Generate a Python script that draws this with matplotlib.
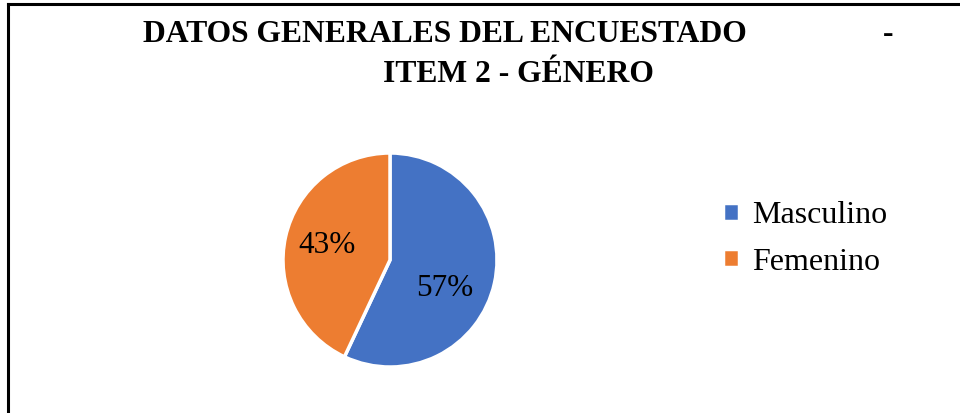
import matplotlib
matplotlib.use("Agg")
import matplotlib.pyplot as plt
from matplotlib.lines import Line2D

categories = ["Masculino", "Femenino"]
values = [57, 43]
colors = ["#4472C4", "#ED7D31"]
title_line1 = "DATOS GENERALES DEL ENCUESTADO"
title_line2 = "ITEM 2 - GÉNERO"

W, H = 960, 413
fig = plt.figure(figsize=(W / 100, H / 100), dpi=100)
fig.patch.set_facecolor("white")

serif = ["Liberation Serif", "DejaVu Serif"]

# border (top and left visible)
fig.add_artist(Line2D([8 / W, 1.0], [1 - 4 / H, 1 - 4 / H], color="black", lw=2.2, transform=fig.transFigure))
fig.add_artist(Line2D([8 / W, 8 / W], [0, 1 - 4 / H], color="black", lw=2.2, transform=fig.transFigure))

# title
fig.text(143 / W, 1 - 42 / H, title_line1, fontfamily=serif, fontweight="bold", fontsize=22.8,
         ha="left", va="baseline")
fig.text(888 / W, 1 - 42 / H, "-", fontfamily=serif, fontweight="bold", fontsize=22.8,
         ha="center", va="baseline")
fig.text(518 / W, 1 - 82 / H, title_line2, fontfamily=serif, fontweight="bold", fontsize=22.8,
         ha="center", va="baseline")

# pie
cx, cy, r = 390, 260, 107
ax = fig.add_axes([(cx - r) / W, (H - cy - r) / H, 2 * r / W, 2 * r / H])
wedges, texts, autotexts = ax.pie(
    values, colors=colors, startangle=90, counterclock=False,
    autopct="%1.0f%%", pctdistance=0.6,
    wedgeprops=dict(edgecolor="white", linewidth=2.5),
    textprops=dict(fontfamily=serif, fontsize=22.5, color="black"),
)
autotexts[0].set_position((0.51, -0.27))
ax.set_xlim(-1, 1)
ax.set_ylim(-1, 1)
ax.set_aspect("equal")
ax.axis("off")

leg = fig.legend(wedges, categories, loc="upper left", bbox_to_anchor=(723 / W, 1 - 201 / H),
                 frameon=False, prop=dict(family=serif, size=23),
                 handlelength=0.5, handleheight=0.5, handletextpad=0.4, labelspacing=0.55,
                 borderpad=0, borderaxespad=0)

fig.savefig("out.png", dpi=100)
